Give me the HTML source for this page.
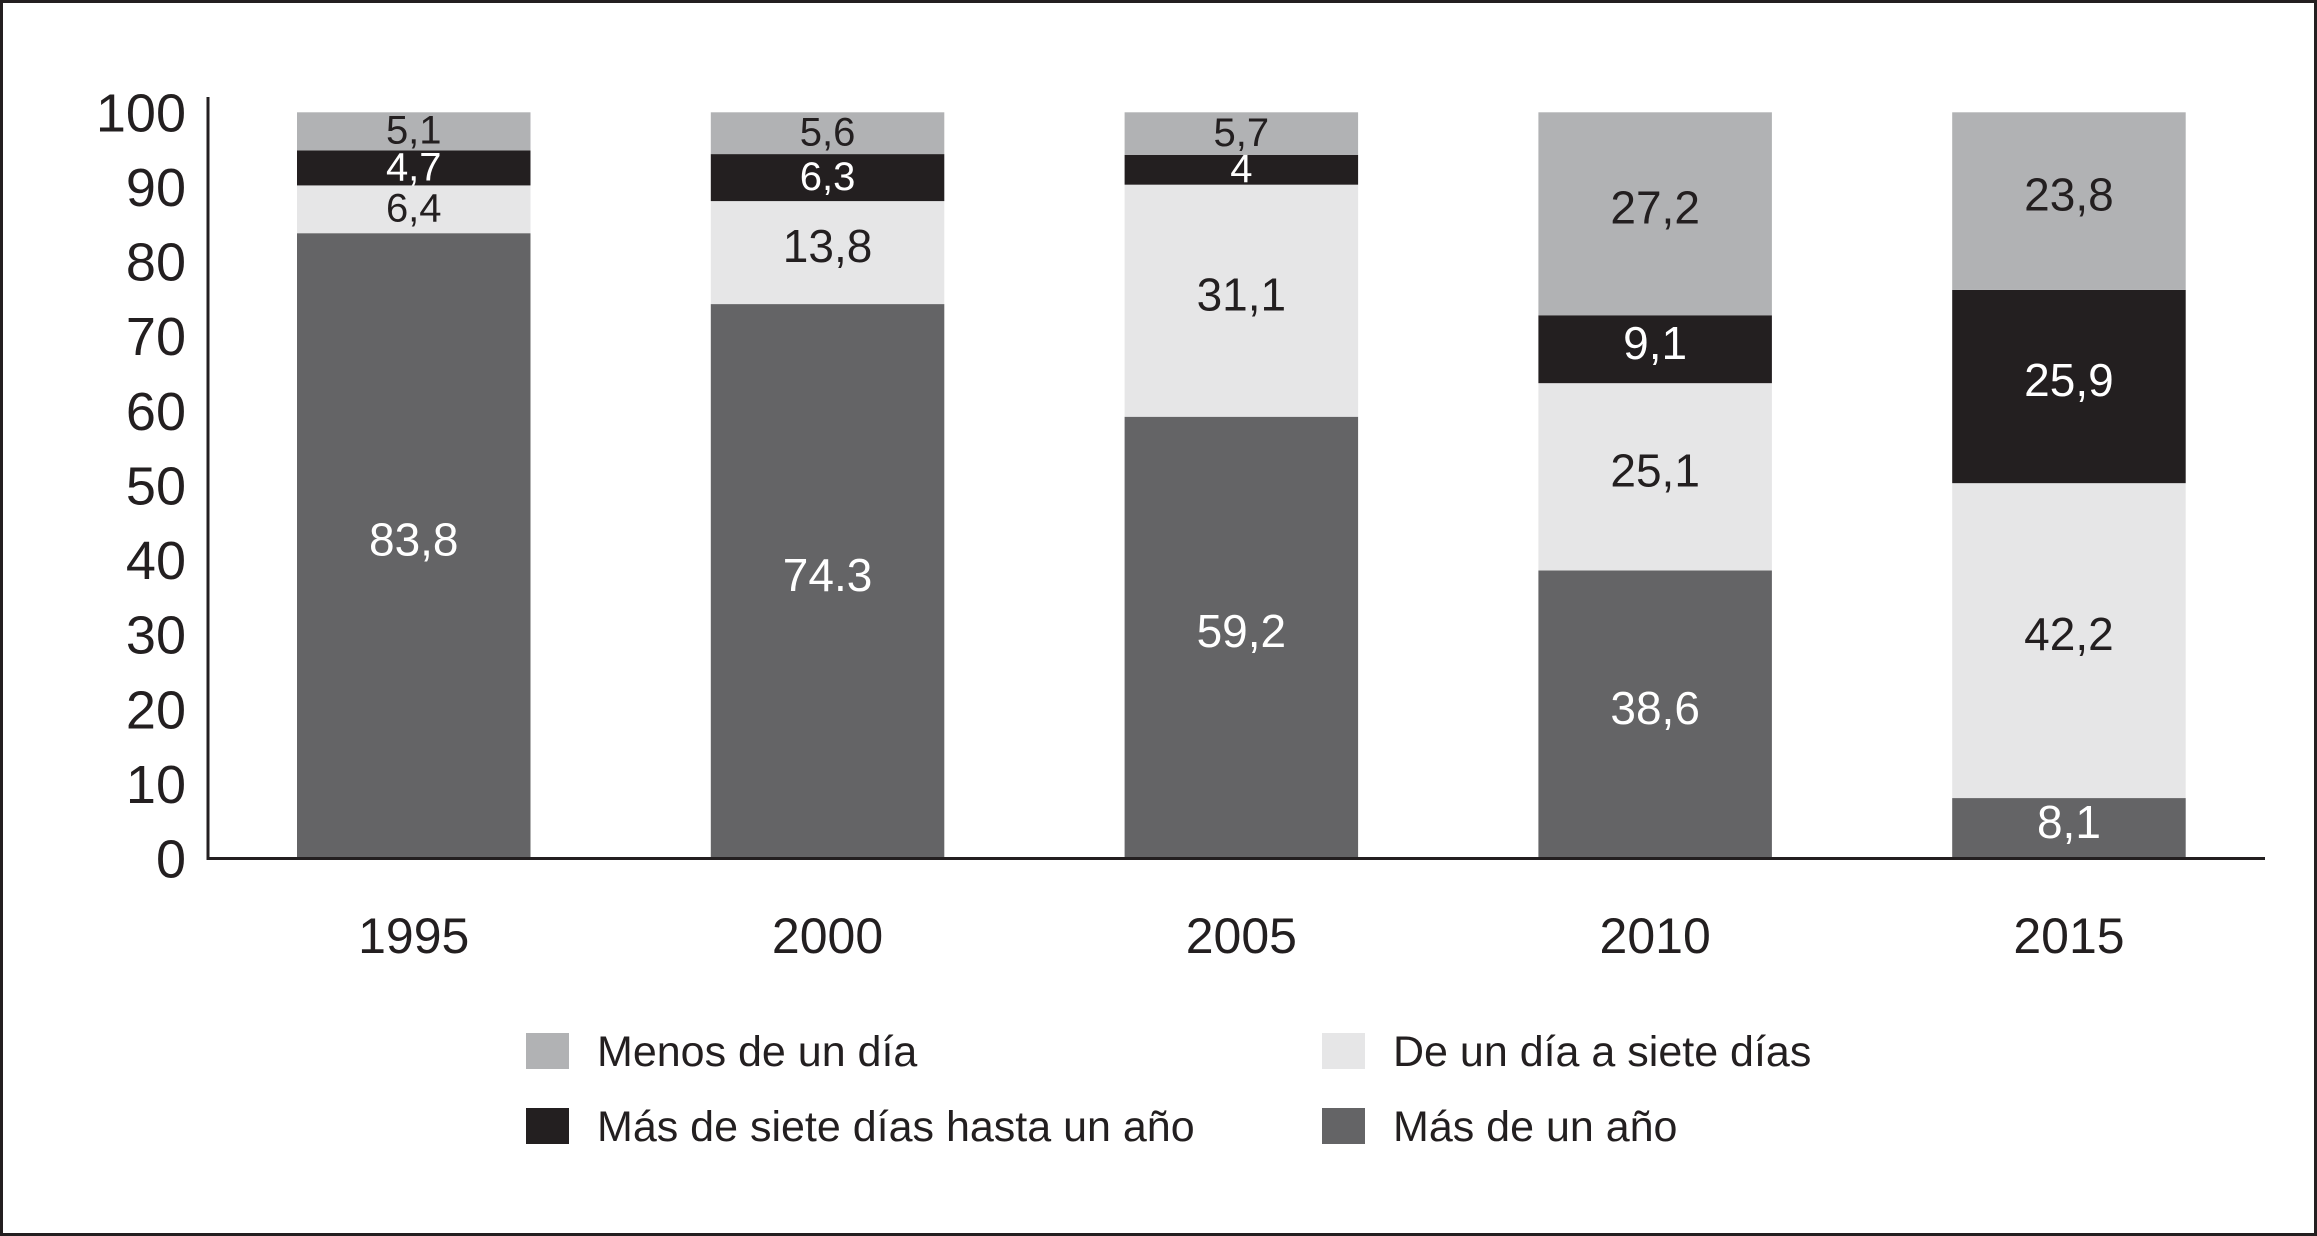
<!DOCTYPE html>
<html><head><meta charset="utf-8"><style>
html,body{margin:0;padding:0;background:#fff}
svg{display:block;font-family:"Liberation Sans",sans-serif}
</style></head><body>
<svg id="chart" width="2317" height="1236" viewBox="0 0 2317 1236">
<rect x="1.5" y="1.5" width="2314" height="1233" fill="#fff" stroke="#231f20" stroke-width="3"/>
<g id="plot"></g>
<g id="legend"></g>
</svg>
<script>
const years = ["1995","2000","2005","2010","2015"];
const masDeUnAno = [83.8, 74.3, 59.2, 38.6, 8.1];
const deUnDiaASiete = [6.4, 13.8, 31.1, 25.1, 42.2];
const masDeSieteDias = [4.7, 6.3, 4, 9.1, 25.9];
const menosDeUnDia = [5.1, 5.6, 5.7, 27.2, 23.8];
const valueLabels = [
  ["83,8","74.3","59,2","38,6","8,1"],
  ["6,4","13,8","31,1","25,1","42,2"],
  ["4,7","6,3","4","9,1","25,9"],
  ["5,1","5,6","5,7","27,2","23,8"]
];
const yTicks = [0,10,20,30,40,50,60,70,80,90,100];
const seriesNames = ["Más de un año","De un día a siete días","Más de siete días hasta un año","Menos de un día"];

const NS="http://www.w3.org/2000/svg";
const plot=document.getElementById('plot');
const legend=document.getElementById('legend');
const y0=858.5, y100=112.3, axisX=208, axisRight=2265;
const firstBar=297, barStep=413.8, barW=233.5;
const yScale=v=>y0-(v/100)*(y0-y100);
const xScale=i=>firstBar+i*barStep;
function mk(tag,attrs,parent){const e=document.createElementNS(NS,tag);for(const k in attrs)e.setAttribute(k,attrs[k]);parent.appendChild(e);return e;}
const series=[masDeUnAno,deUnDiaASiete,masDeSieteDias,menosDeUnDia];
const fills=["#646466","#e6e6e7","#231f20","#b1b2b4"];
const txtCols=["#fff","#231f20","#fff","#231f20"];
const keys=["mas-de-un-ano","de-un-dia-a-siete","mas-de-siete-dias","menos-de-un-dia"];
years.forEach((yr,i)=>{
  let cum=0;
  series.forEach((s,k)=>{
    const v=s[i];
    const yt=yScale(cum+v), yb=yScale(cum);
    const r=mk('rect',{x:xScale(i),y:yt,width:barW,height:yb-yt,fill:fills[k]},plot);
    
    
    const fs=v<8?40:46;
    const shift=v<8?-2:-7;
    const t=mk('text',{x:xScale(i)+barW/2,y:(yt+yb)/2+fs*0.36+shift,'text-anchor':'middle','font-size':fs,fill:txtCols[k]},plot);
    t.textContent=valueLabels[k][i];
    
    
    cum+=v;
  });
  const xl=mk('text',{x:xScale(i)+barW/2,y:953,'text-anchor':'middle','font-size':50,fill:'#231f20'},plot);
  xl.textContent=yr;
  
  
});
yTicks.forEach(v=>{
  const t=mk('text',{x:186,y:yScale(v)+19,'text-anchor':'end','font-size':54,fill:'#231f20'},plot);
  t.textContent=v;
  
  
});
const ya=mk('line',{x1:axisX,y1:97,x2:axisX,y2:y0+1.5,stroke:'#231f20','stroke-width':3},plot);


const xa=mk('line',{x1:axisX-1.5,y1:y0,x2:axisRight,y2:y0,stroke:'#231f20','stroke-width':3},plot);


const legendOrder=[3,1,2,0];
const legendPos=[[526,1033],[1322,1033],[526,1108],[1322,1108]];
legendOrder.forEach((k,j)=>{
  const [lx,ly]=legendPos[j];
  const sw=mk('rect',{x:lx,y:ly,width:43,height:36,fill:fills[k]},legend);
  
  
  const t=mk('text',{x:lx+71,y:ly+33,'font-size':43,fill:'#231f20'},legend);
  t.textContent=seriesNames[k];
  
  
});
</script>
</body></html>
